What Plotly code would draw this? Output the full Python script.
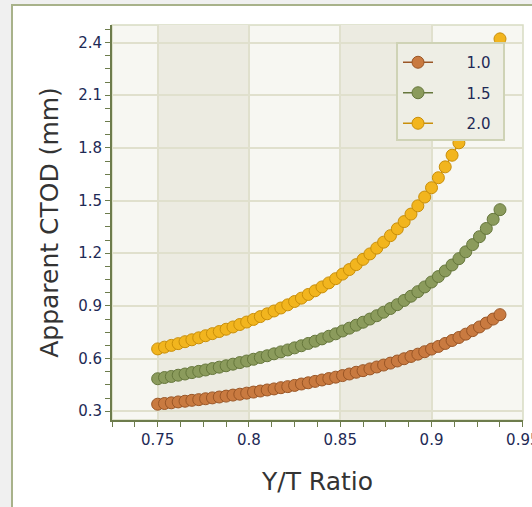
import plotly.graph_objects as go

# Y/T ratio sample positions
yt_ratio = [0.75, 0.75375, 0.7575, 0.76125, 0.765, 0.76875, 0.7725, 0.77625, 0.78, 0.78375,
            0.7875, 0.79125, 0.795, 0.79875, 0.8025, 0.80625, 0.81, 0.81375, 0.8175, 0.82125,
            0.825, 0.82875, 0.8325, 0.83625, 0.84, 0.84375, 0.8475, 0.85125, 0.855, 0.85875,
            0.8625, 0.86625, 0.87, 0.87375, 0.8775, 0.88125, 0.885, 0.88875, 0.8925, 0.89625,
            0.9, 0.90375, 0.9075, 0.91125, 0.915, 0.91875, 0.9225, 0.92625, 0.93, 0.93375, 0.9375]

ctod_10 = [0.340, 0.344, 0.348, 0.353, 0.357, 0.362, 0.366, 0.371, 0.376, 0.381,
           0.386, 0.392, 0.397, 0.403, 0.409, 0.415, 0.421, 0.427, 0.434, 0.440,
           0.447, 0.455, 0.462, 0.470, 0.478, 0.486, 0.494, 0.503, 0.512, 0.522,
           0.531, 0.541, 0.552, 0.563, 0.574, 0.586, 0.599, 0.612, 0.625, 0.639,
           0.654, 0.669, 0.686, 0.703, 0.720, 0.739, 0.759, 0.780, 0.802, 0.825, 0.850]

ctod_15 = [0.485, 0.492, 0.498, 0.505, 0.512, 0.520, 0.527, 0.535, 0.543, 0.551,
           0.559, 0.568, 0.577, 0.586, 0.596, 0.606, 0.616, 0.627, 0.638, 0.649,
           0.661, 0.673, 0.686, 0.699, 0.712, 0.727, 0.741, 0.757, 0.773, 0.790,
           0.807, 0.825, 0.844, 0.864, 0.885, 0.907, 0.931, 0.955, 0.981, 1.008,
           1.036, 1.067, 1.099, 1.133, 1.169, 1.208, 1.249, 1.294, 1.341, 1.393, 1.448]

ctod_20 = [0.655, 0.665, 0.675, 0.685, 0.696, 0.707, 0.718, 0.730, 0.742, 0.754,
           0.767, 0.780, 0.794, 0.808, 0.823, 0.839, 0.855, 0.871, 0.888, 0.906,
           0.925, 0.944, 0.965, 0.986, 1.008, 1.031, 1.055, 1.081, 1.107, 1.135,
           1.165, 1.196, 1.229, 1.263, 1.300, 1.339, 1.380, 1.423, 1.470, 1.520,
           1.573, 1.630, 1.692, 1.758, 1.829, 1.907, 1.992, 2.084, 2.186, 2.298, 2.421]

series_names = ["1.0", "1.5", "2.0"]
series_values = [ctod_10, ctod_15, ctod_20]
fill_colors = ["#c97a40", "#8b9b5c", "#f2b51e"]
edge_colors = ["#9a5626", "#66773c", "#c98f0a"]

x_ticks = [0.75, 0.8, 0.85, 0.9, 0.95]
y_ticks = [0.3, 0.6, 0.9, 1.2, 1.5, 1.8, 2.1, 2.4]
x_bands = [(0.75, 0.8), (0.85, 0.9)]

L, R, T, B = 112, 9, 25, 87
W, H = 532, 507
pw, ph = W - L - R, H - T - B

def px_x(p):
    return (p - L) / pw

def px_y(p):
    return (H - B - p) / ph

fig = go.Figure()
for i, (name, vals) in enumerate(zip(series_names, series_values)):
    fig.add_trace(go.Scatter(
        x=yt_ratio, y=vals, name="\u00a0" * 6 + name, mode="lines+markers",
        legendgroup=name,
        line=dict(color=edge_colors[i], width=1.5),
        marker=dict(size=12, color=fill_colors[i],
                    line=dict(color=edge_colors[i], width=1)),
    ))

shapes = []
# outer panel
shapes.append(dict(type="rect", xref="paper", yref="paper",
                   x0=px_x(12), x1=px_x(545), y0=px_y(520), y1=px_y(5),
                   fillcolor="white", line=dict(color="#a8b28a", width=2), layer="below"))
# plot background
shapes.append(dict(type="rect", xref="paper", yref="paper", x0=0, x1=1, y0=0, y1=1,
                   fillcolor="#f7f7f2", line=dict(color="#d8dcc2", width=1.5), layer="below"))
for a, b in x_bands:
    shapes.append(dict(type="rect", xref="x", yref="paper", x0=a, x1=b, y0=0, y1=1,
                       fillcolor="#ecebe1", line=dict(width=0), layer="below"))
# legend box
shapes.append(dict(type="rect", xref="paper", yref="paper",
                   x0=px_x(397), x1=px_x(504), y0=px_y(140), y1=px_y(43),
                   fillcolor="#eeeee5", line=dict(color="#cfd3b6", width=2), layer="above"))

tickfont = dict(family="DejaVu Sans", size=15, color="#1e2a55")
axis_col = "#6d7c4c"

fig.update_layout(
    width=W, height=H,
    margin=dict(l=L, r=R, t=T, b=B, autoexpand=False),
    paper_bgcolor="#f0f0f0",
    plot_bgcolor="rgba(0,0,0,0)",
    shapes=shapes,
    showlegend=True,
    legend=dict(x=px_x(398), y=px_y(46), xanchor="left", yanchor="top",
                bgcolor="rgba(0,0,0,0)", borderwidth=0,
                font=dict(family="DejaVu Sans", size=15, color="#1e2a55"),
                tracegroupgap=8, itemwidth=30),
    xaxis=dict(range=[0.725, 0.9501], tickvals=x_ticks, ticktext=[str(v) for v in x_ticks],
               automargin=False,
               showline=True, linecolor=axis_col, linewidth=2,
               ticks="outside", ticklen=5, tickcolor=axis_col, tickwidth=1,
               ticklabeloverflow="allow",
               showgrid=True, gridcolor="#e0e0cd", gridwidth=2, zeroline=False,
               minor=dict(dtick=0.0125, tick0=0.75, ticks="outside", ticklen=5,
                          tickcolor=axis_col, showgrid=False),
               tickfont=tickfont,
               title=dict(text="Y/T Ratio", font=dict(family="DejaVu Sans", size=25, color="#333333"),
                          standoff=24)),
    yaxis=dict(range=[0.25, 2.5], tickvals=y_ticks, ticktext=[str(v) for v in y_ticks],
               automargin=False,
               showline=True, linecolor=axis_col, linewidth=2,
               ticks="outside", ticklen=5, tickcolor=axis_col, tickwidth=1,
               showgrid=True, gridcolor="#e0e0cd", gridwidth=2, zeroline=False,
               minor=dict(dtick=0.075, tick0=0.3, ticks="outside", ticklen=5,
                          tickcolor=axis_col, showgrid=False),
               tickfont=tickfont,
               title=dict(text="Apparent CTOD (mm)", font=dict(family="DejaVu Sans", size=25, color="#333333"),
                          standoff=12)),
)

fig.write_html("out.html", config={"displayModeBar": False},
               post_script="document.body.style.margin='0';document.body.style.background='#f0f0f0';")
